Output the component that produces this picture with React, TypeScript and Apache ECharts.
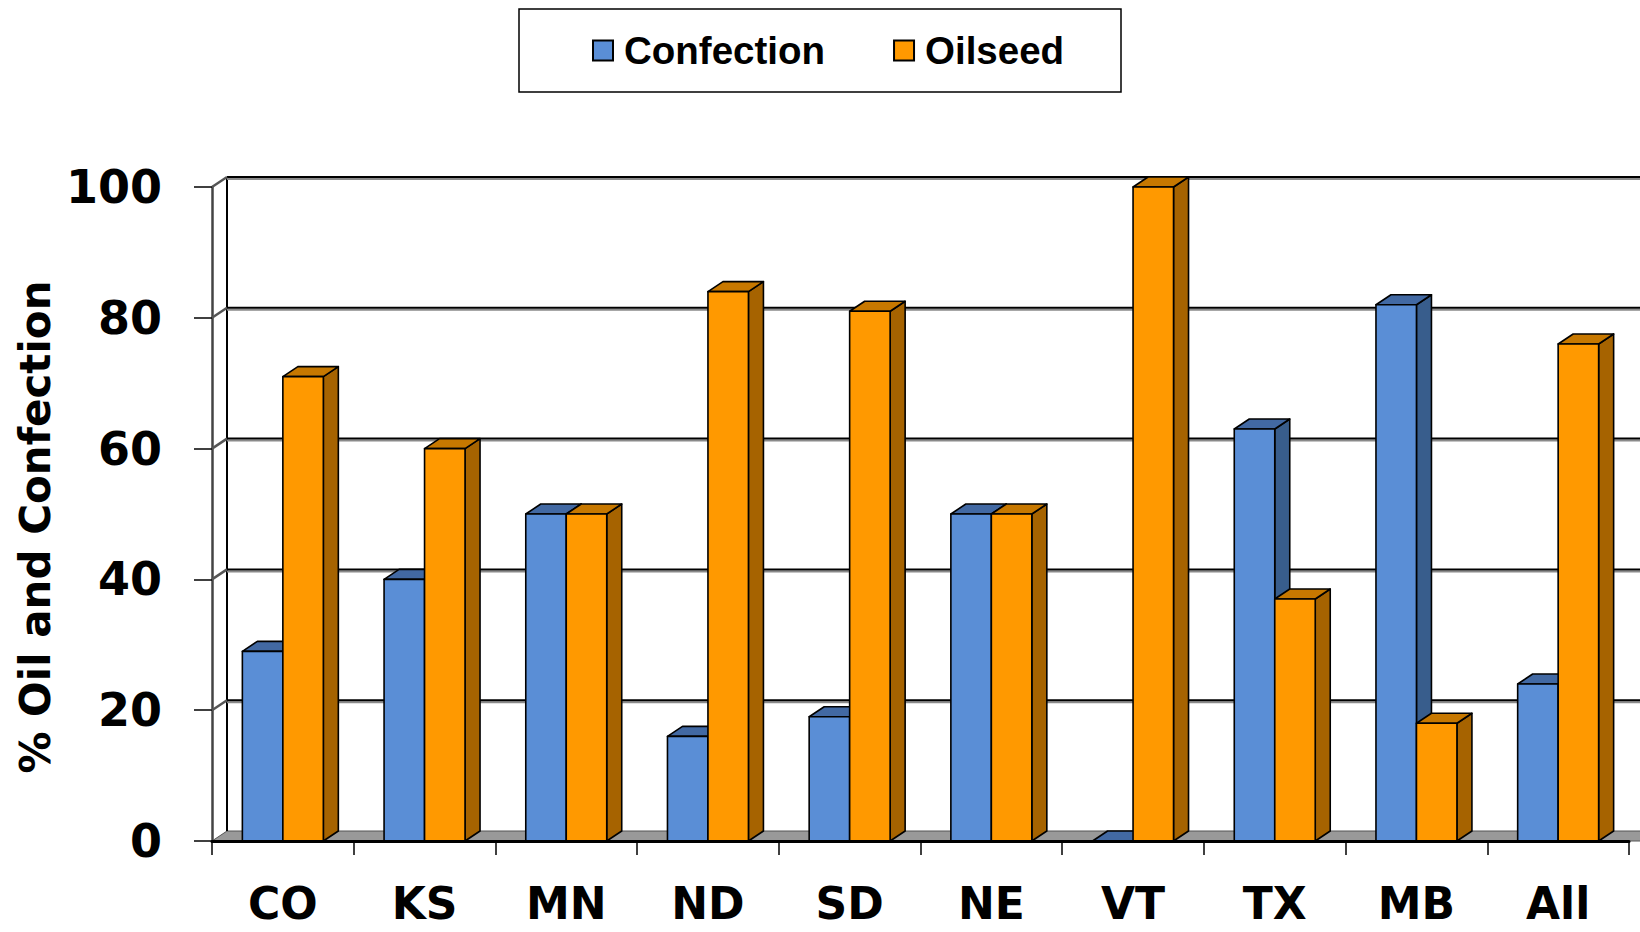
import React, { useEffect, useRef } from "react";
import * as echarts from "echarts";

const categories = ["CO", "KS", "MN", "ND", "SD", "NE", "VT", "TX", "MB", "All"];
const confection = [29, 40, 50, 16, 19, 50, 0, 63, 82, 24];
const oilseed = [71, 60, 50, 84, 81, 50, 100, 37, 18, 76];
const yTicks = [0, 20, 40, 60, 80, 100];
const seriesNames = ["Confection", "Oilseed"];

const DX = 15;
const DY = 10;

const palette = {
  Confection: { front: "#5a8ed6", side: "#385d8c", top: "#4269a3" },
  Oilseed: { front: "#ff9900", side: "#a66300", top: "#c77800" },
};

function barRenderer(which: "Confection" | "Oilseed") {
  const col = palette[which];
  return (params: any, api: any) => {
    const idx = api.value(0);
    const v = api.value(1);
    const base = api.coord([idx, 0]);
    const top = api.coord([idx, v]);
    const band = api.size([1, 0])[0];
    const w = band * 0.2857;
    const x0 = which === "Confection" ? base[0] - w : base[0];
    const yb = base[1];
    const yt = top[1];
    const stroke = { stroke: "#000", lineWidth: 1.6, lineJoin: "round" };
    return {
      type: "group",
      children: [
        {
          type: "polygon",
          shape: { points: [[x0 + w, yt], [x0 + w + DX, yt - DY], [x0 + w + DX, yb - DY], [x0 + w, yb]] },
          style: { fill: col.side, ...stroke },
        },
        {
          type: "polygon",
          shape: { points: [[x0, yt], [x0 + DX, yt - DY], [x0 + w + DX, yt - DY], [x0 + w, yt]] },
          style: { fill: col.top, ...stroke },
        },
        {
          type: "rect",
          shape: { x: x0, y: yt, width: w, height: Math.max(0, yb - yt) },
          style: { fill: col.front, ...stroke },
        },
      ],
    };
  };
}

function wallRenderer(params: any, api: any) {
  const cs = params.coordSys;
  const v = api.value(1);
  const y = api.coord([0, v])[1];
  const left = cs.x;
  const right = cs.x + cs.width + 40;
  const children: any[] = [];
  if (v === 0) {
    const yTop = api.coord([0, yTicks[yTicks.length - 1]])[1];
    children.push({
      type: "polygon",
      shape: { points: [[left, y], [left + DX, y - DY], [right + DX, y - DY], [right, y]] },
      style: { fill: "#999999", stroke: "#555", lineWidth: 1 },
    });
    children.push({
      type: "line",
      shape: { x1: left + DX, y1: y - DY, x2: left + DX, y2: yTop - DY },
      style: { stroke: "#000", lineWidth: 2 },
    });
  } else {
    children.push({
      type: "line",
      shape: { x1: left + DX, y1: y - DY + 2, x2: right, y2: y - DY + 2 },
      style: { stroke: "#8a8a8a", lineWidth: 2 },
    });
    children.push({
      type: "line",
      shape: { x1: left + DX, y1: y - DY, x2: right, y2: y - DY },
      style: { stroke: "#000", lineWidth: 2 },
    });
    children.push({
      type: "line",
      shape: { x1: left, y1: y, x2: left + DX, y2: y - DY },
      style: { stroke: "#555", lineWidth: 2.5 },
    });
  }
  return { type: "group", children };
}

export default function App() {
  const ref = useRef<HTMLDivElement>(null);
  useEffect(() => {
    if (!ref.current) return;
    const chart = echarts.init(ref.current, undefined, { renderer: "svg" });
    chart.setOption({
      animation: false,
      backgroundColor: "#ffffff",
      grid: { left: 212, right: 11, top: 187, bottom: 91, containLabel: false },
      legend: {
        left: 592,
        top: 31,
        padding: 0,
        itemWidth: 20,
        itemHeight: 20,
        itemGap: 68,
        textStyle: {
          fontFamily: "Liberation Sans",
          fontWeight: "bold",
          fontSize: 38.5,
          color: "#000",
          padding: [0, 0, 0, 6],
        },
        data: [
          { name: "Confection", icon: "rect", itemStyle: { color: palette.Confection.front, borderColor: "#000", borderWidth: 2 } },
          { name: "Oilseed", icon: "rect", itemStyle: { color: palette.Oilseed.front, borderColor: "#000", borderWidth: 2 } },
        ],
      },
      graphic: [
        {
          type: "rect",
          z: -1,
          shape: { x: 519, y: 9, width: 602, height: 83 },
          style: { fill: "#fff", stroke: "#000", lineWidth: 1.5 },
        },
        {
          type: "text",
          x: 35,
          y: 527,
          rotation: Math.PI / 2,
          style: {
            text: "% Oil and Confection",
            fontFamily: "DejaVu Sans",
            fontWeight: "bold",
            fontSize: 42,
            fill: "#000",
            align: "center",
            verticalAlign: "middle",
          },
        },
      ],
      xAxis: {
        type: "category",
        data: categories,
        boundaryGap: true,
        axisLine: { show: true, lineStyle: { color: "#000", width: 3 } },
        axisTick: { show: true, length: 14, interval: 0, lineStyle: { color: "#000", width: 1.5 } },
        axisLabel: {
          interval: 0,
          margin: 40,
          fontFamily: "DejaVu Sans",
          fontWeight: "bold",
          fontSize: 44,
          color: "#000",
        },
        splitLine: { show: false },
        z: 5,
      },
      yAxis: {
        type: "value",
        min: 0,
        max: 100,
        interval: 20,
        axisLine: { show: true, lineStyle: { color: "#444", width: 2.5 } },
        axisTick: { show: true, length: 18, lineStyle: { color: "#000", width: 1.5 } },
        axisLabel: {
          margin: 50,
          fontFamily: "DejaVu Sans",
          fontWeight: "bold",
          fontSize: 46,
          color: "#000",
        },
        splitLine: { show: false },
      },
      series: [
        {
          type: "custom",
          name: "wall",
          z: 1,
          silent: true,
          clip: false,
          renderItem: wallRenderer,
          data: yTicks.map((t) => [0, t]),
          encode: { x: 0, y: 1 },
        },
        {
          type: "custom",
          name: seriesNames[0],
          z: 3,
          clip: false,
          itemStyle: { color: palette.Confection.front },
          renderItem: barRenderer("Confection"),
          data: confection.map((v, i) => [i, v]),
          encode: { x: 0, y: 1 },
        },
        {
          type: "custom",
          name: seriesNames[1],
          z: 4,
          clip: false,
          itemStyle: { color: palette.Oilseed.front },
          renderItem: barRenderer("Oilseed"),
          data: oilseed.map((v, i) => [i, v]),
          encode: { x: 0, y: 1 },
        },
      ],
    });
    return () => chart.dispose();
  }, []);
  return (
    <div
      ref={ref}
      style={{ position: "fixed", left: 0, top: 0, width: 1640, height: 932 }}
    />
  );
}
